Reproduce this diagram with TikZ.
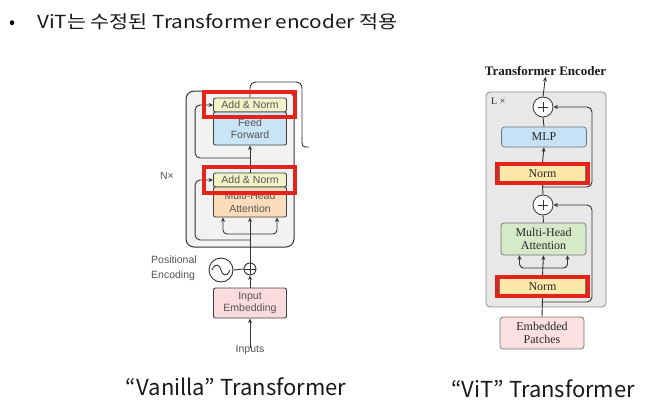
\documentclass[tikz,border=0pt]{standalone}
\usepackage{fontspec}
\setmainfont{Liberation Sans}
\newfontfamily\krfont{Noto Sans CJK KR}
\newfontfamily\serfont{Liberation Serif}
\usetikzlibrary{arrows.meta,calc}
\definecolor{hlred}{HTML}{E5231B}
\definecolor{anfill}{HTML}{F3F3C9}
\definecolor{fffill}{HTML}{C8E4F6}
\definecolor{mhafill}{HTML}{FBDDBB}
\definecolor{embfill}{HTML}{FADCDE}
\definecolor{vmlp}{HTML}{C7E2F6}
\definecolor{vnorm}{HTML}{FDE8AA}
\definecolor{vmha}{HTML}{D6E9C9}
\definecolor{vemb}{HTML}{FAE0E0}
\definecolor{vtext}{HTML}{555555}
\tikzset{
  arr/.style={-{Stealth[length=4.5pt,width=4pt]}},
  vbox/.style={draw=black!75, line width=0.9pt, rounded corners=2pt, inner sep=0pt,
    minimum width=73pt, align=center, text=vtext, font=\fontsize{10.5}{12.5}\selectfont},
  tbox/.style={draw=black!55, line width=0.7pt, rounded corners=3pt, inner sep=0pt,
    align=center, text=black!85, font=\serfont\fontsize{12}{13}\selectfont},
  hl/.style={draw=hlred, line width=3.5pt},
  vline/.style={draw=black!80, line width=0.9pt},
  tline/.style={draw=black!80, line width=0.9pt},
  caption/.style={font=\krfont\fontsize{22}{24}\selectfont, anchor=base, text=black!90}
}
\begin{document}
\begin{tikzpicture}[x=1pt,y=-1pt]
\useasboundingbox (0,0) rectangle (660,405);
% header
\node[font=\krfont\fontsize{18}{20}\selectfont, anchor=base west] (bul) at (6,28) {•};
\node[font=\krfont\fontsize{18}{20}\selectfont, anchor=base west, text=black!90, xscale=1.15, inner sep=0pt] (head) at (37,28) {ViT는 수정된 Transformer encoder 적용};

% ===== Vanilla transformer =====
\node[draw=black!80, fill=black!5, rounded corners=8pt, line width=1pt,
      minimum width=108pt, minimum height=156pt] (nx) at (240,169) {};
\node[vbox, fill=anfill, minimum height=14pt] (an1) at (250,105) {Add \& Norm};
\node[vbox, fill=fffill, minimum height=33pt] (ff) at (250,128.5) {Feed\\Forward};
\node[vbox, fill=anfill, minimum height=14pt] (an2) at (250,180) {Add \& Norm};
\node[vbox, fill=mhafill, minimum height=30pt] (mha) at (250,202) {Multi-Head\\Attention};
\node[vbox, fill=embfill, minimum height=30pt] (emb) at (250,303) {Input\\Embedding};
\node[draw=black!80, line width=0.9pt, circle, inner sep=0pt, minimum size=12pt] (oplus) at (250,269) {};
\draw[vline] (oplus.north) -- (oplus.south) (oplus.west) -- (oplus.east);
\node[draw=black!80, line width=0.9pt, circle, inner sep=0pt, minimum size=24pt] (sine) at (221,270) {};
\draw[vline] ($(sine.center)+(-9,0)$) .. controls ($(sine.center)+(-5,-9)$) and ($(sine.center)+(-1,-4)$) .. (sine.center)
  .. controls ($(sine.center)+(1,4)$) and ($(sine.center)+(5,9)$) .. ($(sine.center)+(9,0)$);
\node[text=vtext, font=\fontsize{10.5}{15}\selectfont, align=left, anchor=west, inner sep=0pt] (pe) at (151,268.5) {Positional\\Encoding};
\node[text=vtext, font=\fontsize{10.5}{12}\selectfont, inner sep=0pt] (inputs) at (250,350) {Inputs};
\node[text=vtext, font=\fontsize{10.5}{12}\selectfont, inner sep=0pt] (nxl) at (167,176) {N×};
\coordinate (r1) at (250,158);
\coordinate (r2) at (250,240);
\coordinate (fk) at (250,230);
\coordinate (topc) at (302,82);
\coordinate (hook) at (309,147);
\draw[vline, arr] ([yshift=-3pt]inputs.north) -- (emb.south);
\draw[vline, arr] (emb.north) -- (oplus.south);
\draw[vline] (sine.east) -- (oplus.west);
\draw[vline, arr] (oplus.north) -- (mha.south);
\draw[vline, arr, rounded corners=4pt] ($(fk)+(0,4)$) -| ([xshift=-27pt]mha.south);
\draw[vline, arr, rounded corners=4pt] ($(fk)+(0,4)$) -| ([xshift=27pt]mha.south);
\draw[vline, arr, rounded corners=5pt] (r2) -| ([xshift=-18pt]an2.west) -- (an2.west);
\draw[vline, arr] (an2.north) -- (ff.south);
\draw[vline, arr, rounded corners=5pt] (r1) -| ([xshift=-18pt]an1.west) -- (an1.west);
\draw[vline, rounded corners=6pt] (an1.north) |- (topc) -- ($(topc)+(0,57)$);
\draw[vline] ($(topc)+(0,56)$) .. controls ($(topc)+(0,65)$) .. (hook);
\draw[hl] (204,92) rectangle (295,117);
\draw[hl] (204,167) rectangle (295,193);

% ===== ViT transformer =====
\node[draw=black!45, fill=black!9, rounded corners=4pt, line width=0.8pt,
      minimum width=120pt, minimum height=215pt] (lbox) at (546,199.5) {};
\node[font=\serfont\bfseries\fontsize{13}{14}\selectfont, text=black!90, inner sep=1pt] (title) at (545.5,71) {Transformer Encoder};
\node[font=\serfont\fontsize{10}{12}\selectfont, text=black!85, anchor=west, inner sep=0pt] (lx) at (491,101) {L ×};
\node[draw=black!75, fill=white, line width=0.9pt, circle, inner sep=0pt, minimum size=20pt] (add1) at (543,107) {};
\draw[tline] ($(add1.center)+(-5,0)$) -- ($(add1.center)+(5,0)$) ($(add1.center)+(0,-5)$) -- ($(add1.center)+(0,5)$);
\node[tbox, fill=vmlp, minimum width=85pt, minimum height=20pt] (mlp) at (544,137) {MLP};
\node[tbox, fill=vnorm, minimum width=86pt, minimum height=22pt] (norm1) at (542.5,173.5) {Norm};
\node[draw=black!75, fill=white, line width=0.9pt, circle, inner sep=0pt, minimum size=20pt] (add2) at (543,205) {};
\draw[tline] ($(add2.center)+(-5,0)$) -- ($(add2.center)+(5,0)$) ($(add2.center)+(0,-5)$) -- ($(add2.center)+(0,5)$);
\node[tbox, fill=vmha, minimum width=85pt, minimum height=32pt] (tmha) at (543.5,239) {Multi-Head\\Attention};
\node[tbox, fill=vnorm, minimum width=86pt, minimum height=22pt] (norm2) at (542.5,286.5) {Norm};
\node[tbox, fill=vemb, minimum width=84pt, minimum height=32pt] (temb) at (542,333) {Embedded\\Patches};
\coordinate (tfk) at (543,268);
\coordinate (res2) at (543,302);
\coordinate (res1) at (543,187);
\draw[tline] (temb.north) -- (norm2.south);
\draw[tline, arr, rounded corners=5pt] (res2) -| (592,215) |- (add2.east);
\draw[tline, arr, rounded corners=5pt] (res1) -| (592,117) |- (add1.east);
\draw[tline, arr] (norm2.north) -- (tmha.south);
\draw[tline, arr, rounded corners=4pt] (tfk) -| ([xshift=-24pt]tmha.south);
\draw[tline, arr, rounded corners=4pt] (tfk) -| ([xshift=24pt]tmha.south);
\draw[tline] (tmha.north) -- (add2.south);
\draw[tline] (add2.north) -- (norm1.south);
\draw[tline, arr] (norm1.north) -- (mlp.south);
\draw[tline] (mlp.north) -- (add1.south);
\draw[tline, arr] (add1.north) -- (title.south);
\draw[hl] ([shift={(-2pt,-2pt)}]norm1.north west) rectangle ([shift={(2pt,2pt)}]norm1.south east);
\draw[hl] ([shift={(-2pt,-2pt)}]norm2.north west) rectangle ([shift={(2pt,2pt)}]norm2.south east);

% captions
\node[caption] (cap1) at (236,395) {“Vanilla” Transformer};
\node[caption] (cap2) at (543,397) {“ViT” Transformer};
\end{tikzpicture}
\end{document}
